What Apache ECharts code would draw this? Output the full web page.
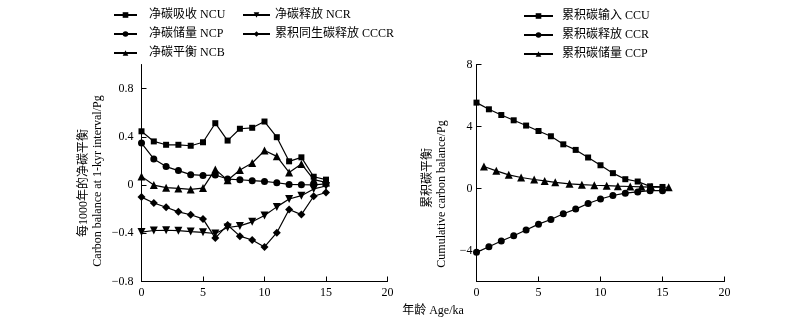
<!DOCTYPE html>
<html>
<head>
<meta charset="utf-8">
<script src="https://cdn.jsdelivr.net/npm/echarts@6/dist/echarts.min.js"></script>
<style>html,body{margin:0;padding:0;background:#fff}#c{width:800px;height:329px}</style>
</head>
<body>
<div id="c"></div>
<script>
var FONT = "'Liberation Serif', 'Noto Sans CJK SC', serif";
var ages = [0, 1, 2, 3, 4, 5, 6, 7, 8, 9, 10, 11, 12, 13, 14, 15];
var ncu = [0.446, 0.362, 0.334, 0.334, 0.326, 0.355, 0.513, 0.369, 0.467, 0.475, 0.527, 0.397, 0.197, 0.23, 0.069, 0.045];
var ncp = [0.348, 0.217, 0.153, 0.12, 0.086, 0.08, 0.083, 0.05, 0.044, 0.036, 0.03, 0.019, 0.005, 0.003, 0.002, 0.01];
var ncb = [0.072, 0.0, -0.022, -0.028, -0.036, -0.025, 0.13, 0.04, 0.125, 0.183, 0.286, 0.238, 0.105, 0.175, 0.045, 0.022];
var ncr = [-0.39, -0.377, -0.375, -0.378, -0.386, -0.392, -0.402, -0.352, -0.339, -0.305, -0.253, -0.181, -0.116, -0.088, -0.032, -0.008];
var cccr = [-0.1, -0.149, -0.184, -0.222, -0.246, -0.281, -0.44, -0.331, -0.424, -0.456, -0.513, -0.395, -0.203, -0.245, -0.093, -0.062];
var ccu = [5.54, 5.11, 4.74, 4.40, 4.06, 3.71, 3.37, 2.85, 2.49, 2.0, 1.5, 0.99, 0.6, 0.45, 0.14, 0.1];
var ccr = [-4.12, -3.76, -3.39, -3.05, -2.68, -2.30, -2.0, -1.63, -1.33, -0.97, -0.68, -0.45, -0.3, -0.22, -0.14, -0.14];
var ccpAges = [0.6, 1.6, 2.6, 3.6, 4.65, 5.5, 6.35, 7.5, 8.5, 9.5, 10.5, 11.4, 12.4, 13.3, 14.1, 15.5];
var ccp = [1.42, 1.14, 0.88, 0.71, 0.58, 0.49, 0.40, 0.30, 0.25, 0.21, 0.18, 0.15, 0.13, 0.11, 0.09, 0.08];
var xTicks = [0, 5, 10, 15, 20];
var leftYTicks = [-0.8, -0.4, 0, 0.4, 0.8];
var rightYTicks = [-4, 0, 4, 8];
var names = {
  ncu: '净碳吸收 NCU', ncp: '净碳储量 NCP', ncb: '净碳平衡 NCB',
  ncr: '净碳释放 NCR', cccr: '累积同生碳释放 CCCR',
  ccu: '累积碳输入 CCU', ccr: '累积碳释放 CCR', ccp: '累积碳储量 CCP'
};
var yNameLeft = ['每1000年的净碳平衡', 'Carbon balance at 1-kyr interval/Pg'];
var yNameRight = ['累积碳平衡', 'Cumulative carbon balance/Pg'];
var xName = '年龄 Age/ka';

function pairs(xs, ys) { return ys.map(function (v, i) { return [xs[i], v]; }); }
function minus(v) { return String(v).replace('-', '\u2212'); }

var axisCommon = {
  axisLine: { onZero: false, lineStyle: { color: '#000', width: 1 } },
  axisTick: { inside: true, length: 5, lineStyle: { color: '#000' } },
  splitLine: { show: false },
  axisLabel: { color: '#000', fontFamily: FONT, fontSize: 12 }
};
function xAxis(gi) {
  return Object.assign({}, axisCommon, {
    type: 'value', gridIndex: gi, min: 0, max: 20,
    axisTick: Object.assign({}, axisCommon.axisTick, { customValues: xTicks }),
    axisLabel: Object.assign({}, axisCommon.axisLabel, { customValues: xTicks, margin: 5 })
  });
}
function yAxis(gi, mn, mx, ticks, margin) {
  return Object.assign({}, axisCommon, {
    type: 'value', gridIndex: gi, min: mn, max: mx,
    axisTick: Object.assign({}, axisCommon.axisTick, { customValues: ticks }),
    axisLabel: Object.assign({}, axisCommon.axisLabel, { customValues: ticks, margin: margin, formatter: function (v) { return minus(v); } })
  });
}
function ser(name, xi, xs, ys, symbol, size, rot) {
  return {
    name: name, type: 'line', xAxisIndex: xi, yAxisIndex: xi,
    data: pairs(xs, ys), symbol: symbol, symbolSize: size, symbolRotate: rot || 0,
    showAllSymbol: true, animation: false,
    lineStyle: { color: '#000', width: 1.2 },
    itemStyle: { color: '#000', borderWidth: 0 }
  };
}
function legend(items, left, top, w, pad) {
  return {
    data: items, orient: 'vertical', left: left, top: top,
    itemWidth: w, itemHeight: 7, itemGap: 7, padding: 0,
    textStyle: { color: '#000', fontFamily: FONT, fontSize: 12, padding: [0, 0, 0, pad] },
    selectedMode: false
  };
}
function vtext(x, y, t) {
  return { type: 'text', x: x, y: y, rotation: Math.PI / 2, style: { text: t, font: '12px ' + FONT, fill: '#000', align: 'center', verticalAlign: 'middle' } };
}

var chart = echarts.init(document.getElementById('c'), null, { renderer: 'canvas' });
chart.setOption({
  backgroundColor: '#fff',
  animation: false,
  grid: [
    { left: 141.5, right: 412.5, top: 64.5, bottom: 47.5 },
    { left: 476.5, right: 75.5, top: 64.5, bottom: 47.5 }
  ],
  xAxis: [xAxis(0), xAxis(1)],
  yAxis: [yAxis(0, -0.8, 1.0, leftYTicks, 8), yAxis(1, -6, 8, rightYTicks, 4)],
  legend: [
    legend([names.ncu, names.ncp, names.ncb], 113, 9, 23, 7),
    legend([names.ncr, names.cccr], 242, 9, 27, 0),
    legend([names.ccu, names.ccr, names.ccp], 523, 10, 29, 4)
  ],
  graphic: [
    vtext(84, 183, yNameLeft[0]),
    vtext(98, 181, yNameLeft[1]),
    vtext(428, 178, yNameRight[0]),
    vtext(442, 194, yNameRight[1]),
    { type: 'text', x: 433, y: 311, style: { text: xName, font: '12px ' + FONT, fill: '#000', align: 'center', verticalAlign: 'middle' } }
  ],
  series: [
    ser(names.ncu, 0, ages, ncu, 'rect', 6),
    ser(names.ncp, 0, ages, ncp, 'circle', 7),
    ser(names.ncb, 0, ages, ncb, 'triangle', 8),
    ser(names.ncr, 0, ages, ncr, 'triangle', 8, 180),
    ser(names.cccr, 0, ages, cccr, 'diamond', 8),
    ser(names.ccu, 1, ages, ccu, 'rect', 6),
    ser(names.ccr, 1, ages, ccr, 'circle', 7),
    ser(names.ccp, 1, ccpAges, ccp, 'triangle', 8)
  ]
});
</script>
</body>
</html>
